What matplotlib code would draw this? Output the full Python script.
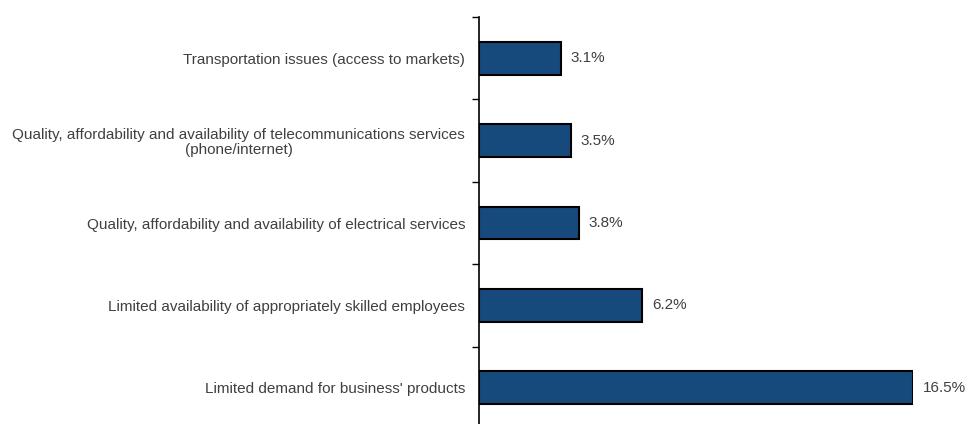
import matplotlib
matplotlib.use("Agg")
from matplotlib import pyplot as plt
import numpy as np

plt.rcParams['font.family'] = ['Liberation Sans', 'DejaVu Sans']

categories = [
    "Transportation issues (access to markets)",
    "Quality, affordability and availability of telecommunications services\n(phone/internet)",
    "Quality, affordability and availability of electrical services",
    "Limited availability of appropriately skilled employees",
    "Limited demand for business' products",
]
values = [3.1, 3.5, 3.8, 6.2, 16.5]

bar_color = '#174a7c'
text_color = '#404040'

fig = plt.figure(figsize=(9.66, 4.24), dpi=100)
ax = fig.add_axes([479 / 966, -5 / 424, (913 - 479) / 966, 412 / 424])

pos = np.arange(len(categories))
ax.barh(pos, values, height=0.4, color=bar_color, edgecolor='black', linewidth=1.5)

for y, v in zip(pos, values):
    ax.annotate(f"{v:.1f}%", xy=(v, y), xytext=(7, 0), textcoords='offset points',
                va='center', ha='left', fontsize=11, color=text_color)

ax.set_xlim(0, 16.5)
ax.set_ylim(len(categories) - 0.5, -0.5)

ax.set_yticks(pos)
ax.set_yticklabels(categories, fontsize=11, color=text_color)
ax.tick_params(axis='y', which='major', length=0, pad=10)
for lbl in ax.get_yticklabels():
    lbl.set_multialignment('center')
    lbl.set_linespacing(1.1)

# boundary ticks between categories
ax.set_yticks(np.arange(-0.5, len(categories) + 0.5, 1), minor=True)
ax.tick_params(axis='y', which='minor', length=5, width=1, direction='out', color='black')

ax.xaxis.set_visible(False)
for side in ['top', 'right', 'bottom']:
    ax.spines[side].set_visible(False)
ax.spines['left'].set_linewidth(1.2)

fig.savefig('out.png', dpi=100)
